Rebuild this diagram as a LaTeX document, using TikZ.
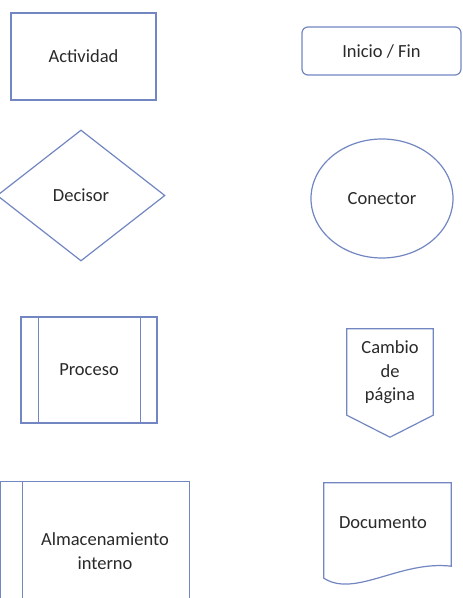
\documentclass[tikz,border=0pt]{standalone}
\usepackage{fontspec}
\setmainfont{Carlito}
\usetikzlibrary{shapes.geometric}
\definecolor{shapeline}{HTML}{7286C2}
\definecolor{labeltext}{HTML}{2A2A2A}
\begin{document}
\begin{tikzpicture}[x=1pt,y=1pt,
  symbol/.style={draw=shapeline, line width=1.2pt, fill=white, inner sep=0pt,
    text=labeltext, font=\fontsize{18.5}{23.5}\selectfont, align=center},
  label/.style={inner sep=0pt, text=labeltext, font=\fontsize{18.5}{23.5}\selectfont, align=center},
  outline/.style={draw=shapeline, line width=1.2pt, line join=miter}]
\useasboundingbox (0,0) rectangle (463,598);
\clip (0,0) rectangle (463,598);
\fill[white] (0,0) rectangle (463,598);

% activity: plain rectangle
\node[symbol, rectangle, minimum width=145, minimum height=87] (act) at (83.5,541.5) {Actividad};

% start / end: rounded rectangle
\node[symbol, rectangle, rounded corners=6pt, minimum width=159, minimum height=48] (ini) at (381.5,547) {Inicio / Fin};

% decision: diamond
\node[symbol, diamond, minimum width=168, minimum height=131] (dec) at (81,402.5) {Decisor};

% connector: ellipse
\node[symbol, ellipse, minimum width=142, minimum height=119] (con) at (382,399.5) {Conector};

% predefined process: rectangle with two inner bars
\node[symbol, rectangle, minimum width=136, minimum height=106] (proc) at (89,228) {Proceso};
\draw[outline] ([xshift=18]proc.north west) -- ([xshift=18]proc.south west);
\draw[outline] ([xshift=-17]proc.north east) -- ([xshift=-17]proc.south east);

% off-page connector: pentagon pointing down
\node[rectangle, minimum width=86, minimum height=108, inner sep=0pt] (cam) at (390,215) {};
\draw[outline, fill=white] (cam.north west) -- (cam.north east) -- ([yshift=22]cam.south east)
  -- (cam.south) -- ([yshift=22]cam.south west) -- cycle;
\node[label] (camtxt) at (390,225.5) {Cambio\\de\\página};

% internal storage: rectangle with an inner vertical bar
\node[rectangle, minimum width=188, minimum height=140, inner sep=0pt] (alm) at (95,46) {};
\draw[outline, fill=white] (alm.north west) rectangle (alm.south east);
\draw[outline] ([xshift=22]alm.north west) -- ([xshift=22]alm.south west);
\node[label] (almtxt) at (105,47) {Almacenamiento\\interno};

% document: rectangle with a wavy bottom edge
\node[rectangle, minimum width=127, minimum height=95, inner sep=0pt] (doc) at (387.5,67.5) {};
\draw[outline, fill=white] (doc.north west) -- (doc.north east) -- ([yshift=12]doc.south east)
  .. controls ([xshift=-51,yshift=18]doc.south east) and ([xshift=31,yshift=-20]doc.south west) .. (doc.south west)
  -- cycle;
\node[label] (doctxt) at (383,75) {Documento};
\end{tikzpicture}
\end{document}
